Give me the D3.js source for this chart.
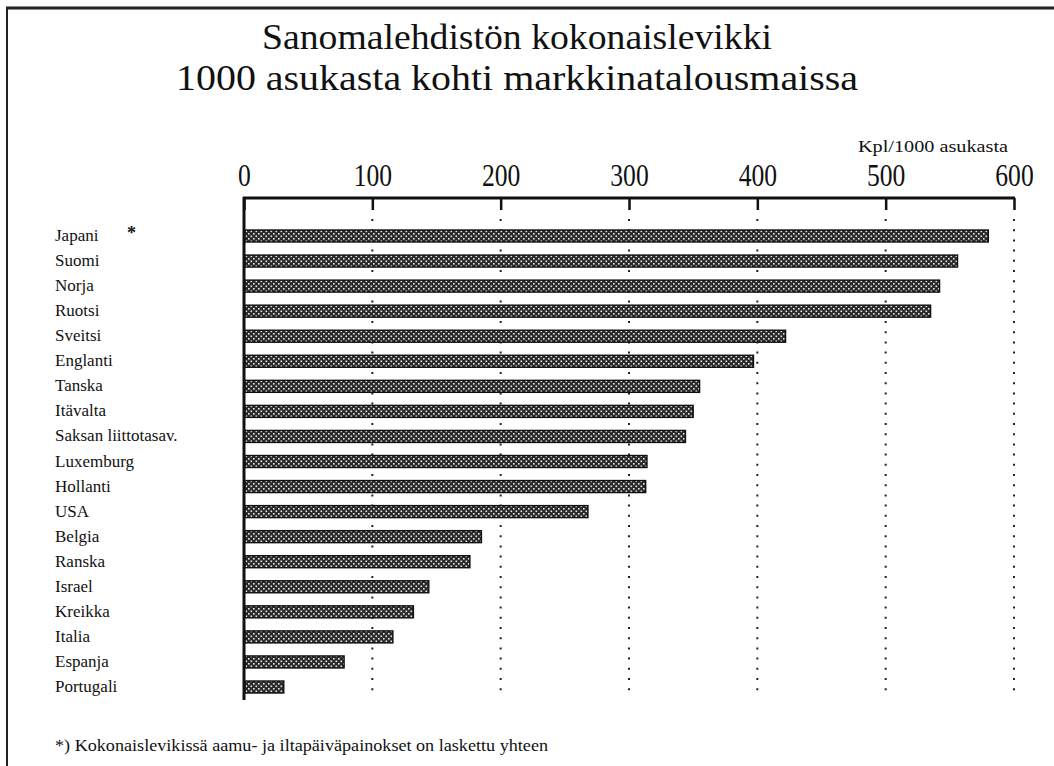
<!DOCTYPE html>
<html>
<head>
<meta charset="utf-8">
<script src="https://cdn.jsdelivr.net/npm/d3@7"></script>
<style>
  html, body { margin: 0; padding: 0; background: #fff; }
  svg { display: block; }
</style>
</head>
<body>
<svg id="chart"></svg>
<script>
// Sanomalehtien levikki, kpl / 1000 asukasta
const countries = [
    'Japani', 'Suomi', 'Norja', 'Ruotsi', 'Sveitsi', 'Englanti', 'Tanska',
    'Itävalta', 'Saksan liittotasav.', 'Luxemburg', 'Hollanti', 'USA',
    'Belgia', 'Ranska', 'Israel', 'Kreikka', 'Italia', 'Espanja', 'Portugali'
];
const circulation = [
    580, 556, 542, 535, 422, 397, 355,
    350, 344, 314, 313, 268,
    185, 176, 144, 132, 116, 78, 31
];
const tickValues = [0, 100, 200, 300, 400, 500, 600];
const titleLines = [
    'Sanomalehdistön kokonaislevikki',
    '1000 asukasta kohti markkinatalousmaissa'
];
const unitLabel = 'Kpl/1000 asukasta';
const footnote = '*) Kokonaislevikissä aamu- ja iltapäiväpainokset on laskettu yhteen';

const serif = '"Liberation Serif", "Times New Roman", Times, serif';
const width = 1054, height = 766;
const svg = d3.select('#chart').attr('width', width).attr('height', height);

// bar fill: dark mesh with light dots
const pat = svg.append('defs').append('pattern')
    .attr('id', 'mesh')
    .attr('patternUnits', 'userSpaceOnUse')
    .attr('width', 5).attr('height', 5);
pat.append('rect').attr('width', 5).attr('height', 5).attr('fill', '#2a2a2a');
pat.append('rect').attr('x', 0.5).attr('y', 0.5).attr('width', 1.6).attr('height', 1.6).attr('fill', '#e8e8e8');
pat.append('rect').attr('x', 3).attr('y', 3).attr('width', 1.6).attr('height', 1.6).attr('fill', '#e8e8e8');

function label(sel) {
    return sel.style('font-family', serif).attr('fill', '#111');
}

// frame (top and left only, as in the scan)
svg.append('line').attr('x1', 6).attr('x2', width).attr('y1', 8).attr('y2', 8)
    .attr('stroke', '#222').attr('stroke-width', 3);
svg.append('line').attr('x1', 7).attr('x2', 7).attr('y1', 7).attr('y2', height)
    .attr('stroke', '#222').attr('stroke-width', 2);

// title
svg.append('text').call(label).attr('x', 517).attr('y', 49)
    .attr('text-anchor', 'middle').attr('font-size', 36)
    .attr('textLength', 510).attr('lengthAdjust', 'spacingAndGlyphs')
    .text(titleLines[0]);
svg.append('text').call(label).attr('x', 517).attr('y', 90)
    .attr('text-anchor', 'middle').attr('font-size', 36)
    .attr('textLength', 682).attr('lengthAdjust', 'spacingAndGlyphs')
    .text(titleLines[1]);

const x = d3.scaleLinear().domain([0, 600]).range([244, 1014]);
const y = d3.scalePoint().domain(countries).range([236, 687]);
const barH = 12;
const axisY = 198;

// dotted grid lines
svg.append('g').selectAll('line')
    .data(tickValues.slice(1))
    .join('line')
    .attr('x1', d => x(d)).attr('x2', d => x(d))
    .attr('y1', 219).attr('y2', 697)
    .attr('stroke', '#222').attr('stroke-width', 2)
    .attr('stroke-dasharray', '2,8.2');

// top axis
const axis = svg.append('g')
    .attr('transform', `translate(0,${axisY})`)
    .call(d3.axisTop(x).tickValues(tickValues).tickSize(-12).tickPadding(12).tickFormat(d3.format('d')));
axis.select('.domain').remove();
axis.selectAll('.tick line').attr('stroke', '#111').attr('stroke-width', 2.5);
axis.selectAll('.tick text')
    .call(label)
    .attr('font-size', 32)
    .attr('transform', 'scale(0.8,1)');
svg.append('line').attr('x1', 243).attr('x2', 1015).attr('y1', axisY).attr('y2', axisY)
    .attr('stroke', '#111').attr('stroke-width', 3);
svg.append('line').attr('x1', x(0)).attr('x2', x(0)).attr('y1', axisY - 1).attr('y2', 700)
    .attr('stroke', '#111').attr('stroke-width', 3);

svg.append('text').call(label).attr('x', 1008).attr('y', 152)
    .attr('text-anchor', 'end').attr('font-size', 16)
    .attr('textLength', 150).attr('lengthAdjust', 'spacingAndGlyphs')
    .text(unitLabel);

// bars
svg.append('g').selectAll('rect')
    .data(countries)
    .join('rect')
    .attr('x', x(0) + 1)
    .attr('y', d => y(d) - barH / 2)
    .attr('width', (d, i) => x(circulation[i]) - x(0) - 1)
    .attr('height', barH)
    .attr('fill', 'url(#mesh)')
    .attr('stroke', '#111').attr('stroke-width', 1.4);

// category labels
svg.append('g').selectAll('text')
    .data(countries)
    .join('text')
    .call(label)
    .attr('x', 55)
    .attr('y', d => y(d) + 5)
    .attr('font-size', 17)
    .text(d => d);
svg.append('text').call(label).attr('x', 127).attr('y', y('Japani') + 3)
    .attr('font-size', 18).attr('font-weight', 'bold').text('*');

// footnote
svg.append('text').call(label).attr('x', 55).attr('y', 751)
    .attr('font-size', 16)
    .attr('textLength', 493).attr('lengthAdjust', 'spacingAndGlyphs')
    .text(footnote);
</script>
</body>
</html>
